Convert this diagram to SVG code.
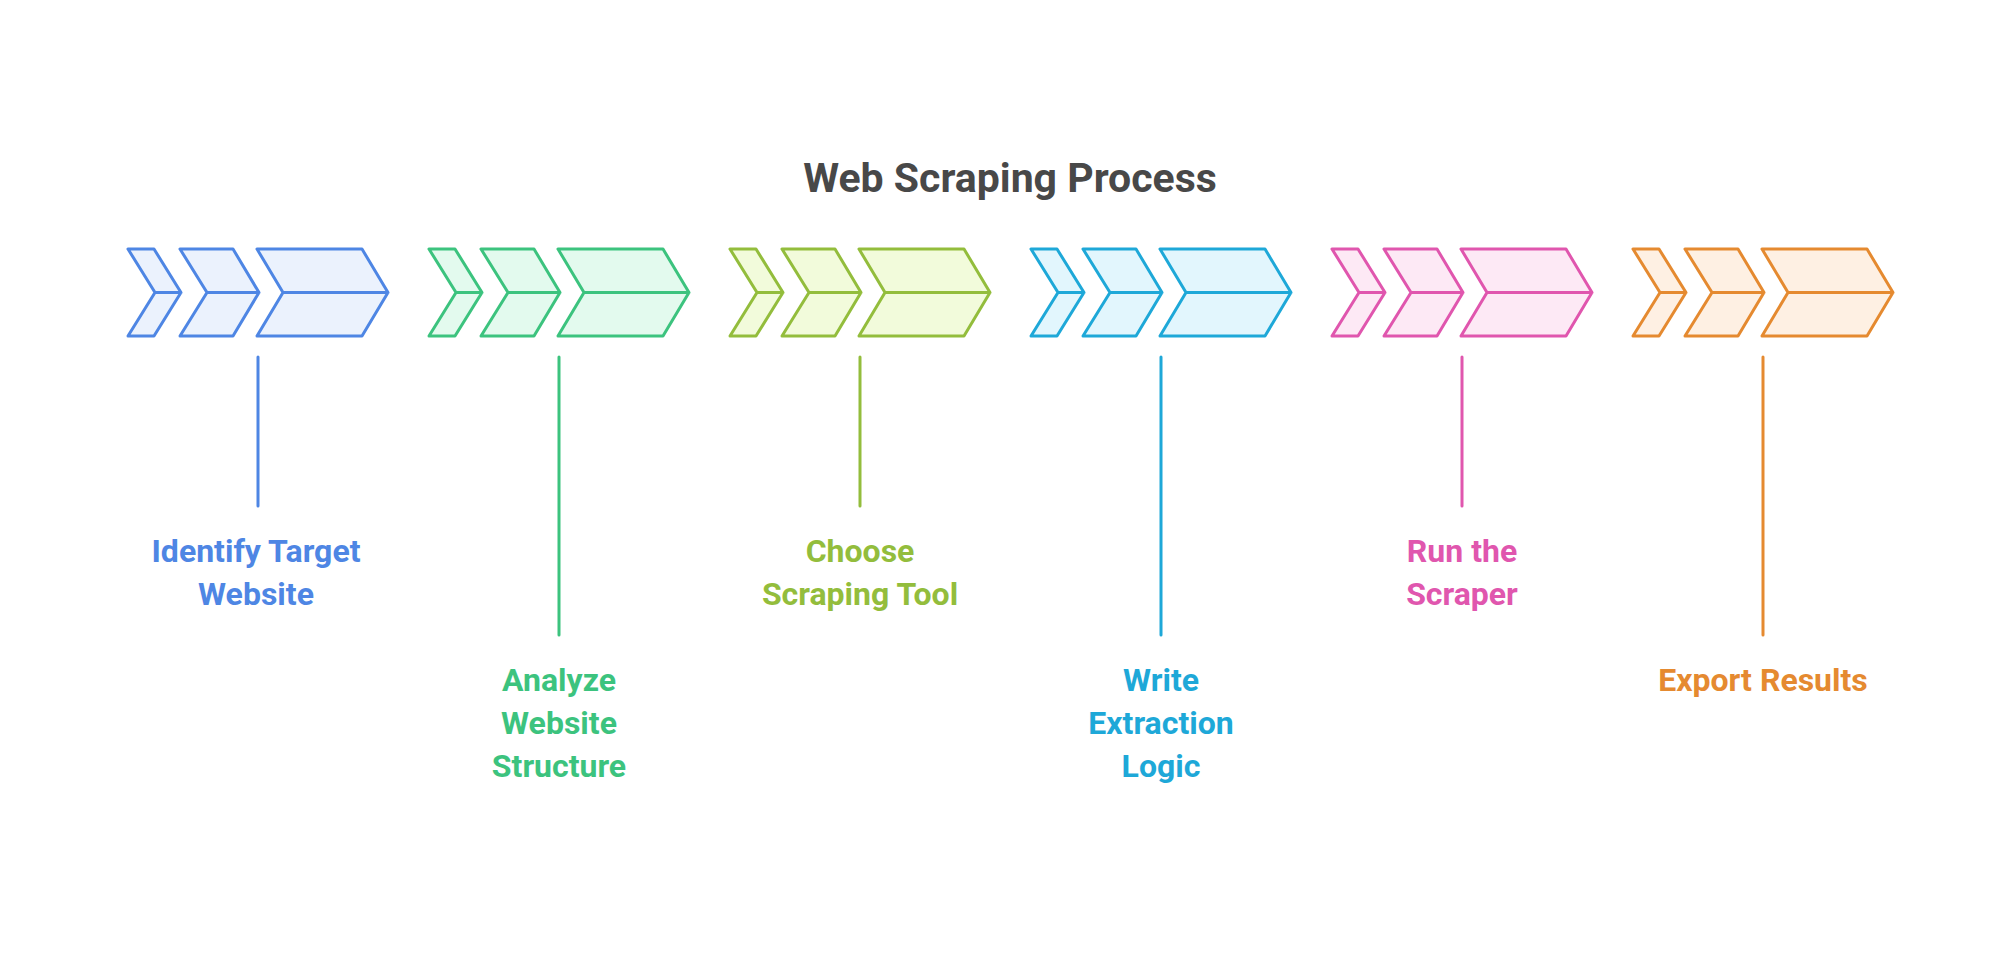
<svg xmlns="http://www.w3.org/2000/svg" width="2000" height="963" viewBox="0 0 2000 963">
<style>
text{font-family:Roboto,"Liberation Sans",sans-serif;font-weight:700;text-anchor:middle}
.t{font-size:41px;fill:#484848}
.l{font-size:32px}
.c{stroke-width:3;stroke-linejoin:round;stroke-linecap:round}
.b{stroke:#4E86E4;fill:#EBF2FD}.g{stroke:#3CC37E;fill:#E3FAEE}.o{stroke:#93BD3C;fill:#F2FBDB}
.y{stroke:#1EA8D8;fill:#E2F6FD}.p{stroke:#E056AE;fill:#FDE9F5}.r{stroke:#E58A30;fill:#FEF0E3}
</style>
<defs>
<g id="chev">
<path d="M0,249H26L53,292.5L26,336H0L27,292.5Z M27,292.5H53"/>
<path d="M52,249H105L131,292.5L105,336H52L79,292.5Z M79,292.5H131"/>
<path d="M129,249H234L260,292.5L234,336H129L155,292.5Z M155,292.5H260"/>
</g>
</defs>
<rect width="2000" height="963" fill="#fff"/>
<text class="t" x="1010" y="192">Web Scraping Process</text>
<g id="step1"><use href="#chev" x="128" class="c b"/><text class="l" x="256" y="562" fill="#4E86E4"><tspan x="256">Identify Target</tspan><tspan x="256" dy="43">Website</tspan></text></g>
<g id="step2"><use href="#chev" x="429" class="c g"/><text class="l" x="559" y="691" fill="#3CC37E"><tspan x="559">Analyze</tspan><tspan x="559" dy="43">Website</tspan><tspan x="559" dy="43">Structure</tspan></text></g>
<g id="step3"><use href="#chev" x="730" class="c o"/><text class="l" x="860" y="562" fill="#93BD3C"><tspan x="860">Choose</tspan><tspan x="860" dy="43">Scraping Tool</tspan></text></g>
<g id="step4"><use href="#chev" x="1031" class="c y"/><text class="l" x="1161" y="691" fill="#1EA8D8"><tspan x="1161">Write</tspan><tspan x="1161" dy="43">Extraction</tspan><tspan x="1161" dy="43">Logic</tspan></text></g>
<g id="step5"><use href="#chev" x="1332" class="c p"/><text class="l" x="1462" y="562" fill="#E056AE"><tspan x="1462">Run the</tspan><tspan x="1462" dy="43">Scraper</tspan></text></g>
<g id="step6"><use href="#chev" x="1633" class="c r"/><text class="l" x="1763" y="691" fill="#E58A30">Export Results</text></g>
<g id="connectors" stroke-width="3" stroke-linecap="round">
<line x1="258" y1="357" x2="258" y2="506" stroke="#4E86E4"/>
<line x1="559" y1="357" x2="559" y2="635" stroke="#3CC37E"/>
<line x1="860" y1="357" x2="860" y2="506" stroke="#93BD3C"/>
<line x1="1161" y1="357" x2="1161" y2="635" stroke="#1EA8D8"/>
<line x1="1462" y1="357" x2="1462" y2="506" stroke="#E056AE"/>
<line x1="1763" y1="357" x2="1763" y2="635" stroke="#E58A30"/>
</g>
</svg>
